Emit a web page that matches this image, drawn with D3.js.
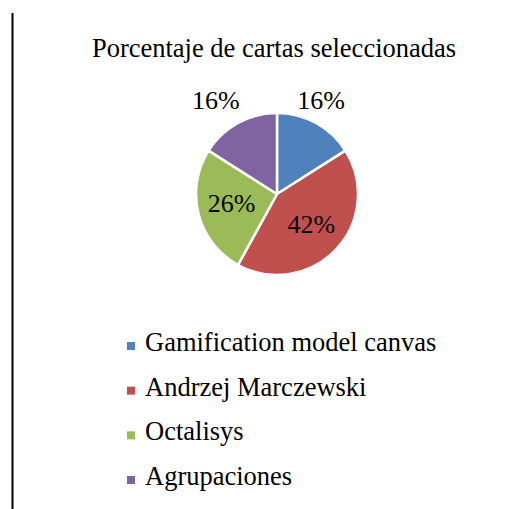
<!DOCTYPE html>
<html><head><meta charset="utf-8">
<script src="https://cdn.jsdelivr.net/npm/d3@7"></script>
<style>html,body{margin:0;padding:0;background:#fff;}svg{display:block;}</style>
</head><body>
<script>
const categories = ["Gamification model canvas", "Andrzej Marczewski", "Octalisys", "Agrupaciones"];
const values = [16, 42, 26, 16];
const colors = ["#4F81BD", "#C0504D", "#9BBB59", "#8064A2"];
const title = "Porcentaje de cartas seleccionadas";

const W = 528, H = 509;
const svg = d3.select("body").append("svg").attr("width", W).attr("height", H);
const font = "'Liberation Serif','Times New Roman',serif";

svg.append("line").attr("x1", 12.5).attr("x2", 12.5).attr("y1", 13).attr("y2", H)
  .attr("stroke", "#000").attr("stroke-width", 2);

svg.append("text").attr("x", 274).attr("y", 57).attr("text-anchor", "middle")
  .attr("font-family", font).attr("font-size", 26.5).attr("fill", "#000").text(title);

const cx = 277, cy = 194, R = 81;
const total = d3.sum(values);
const pie = d3.pie().sort(null).value(d => d);
const arcs = pie(values);
const arc = d3.arc().innerRadius(0).outerRadius(R);
const g = svg.append("g").attr("transform", `translate(${cx},${cy})`);
g.selectAll("path").data(arcs).join("path")
  .attr("d", arc).attr("fill", (d, i) => colors[i])
  .attr("stroke", "#fff").attr("stroke-width", 2.5).attr("stroke-linejoin", "round");

const fmt = v => Math.round(v / total * 100) + "%";
g.selectAll("text.lbl").data(arcs).join("text").attr("class", "lbl")
  .attr("font-family", font).attr("font-size", 26).attr("fill", "#000")
  .attr("dominant-baseline", "central")
  .attr("text-anchor", d => {
    const frac = (d.endAngle - d.startAngle) / (2 * Math.PI);
    if (frac > 0.2) return "middle";
    return Math.sin((d.startAngle + d.endAngle) / 2) > 0 ? "start" : "end";
  })
  .attr("transform", d => {
    const a = (d.startAngle + d.endAngle) / 2;
    const frac = (d.endAngle - d.startAngle) / (2 * Math.PI);
    let x, y;
    if (frac > 0.2) { x = Math.sin(a) * R * 0.58; y = -Math.cos(a) * R * 0.58 - 2; }
    else {
      x = Math.sin(a) > 0 ? R * 0.25 : -R * 0.46;
      y = -Math.cos(a) * R * 1.32;
    }
    return `translate(${x},${y})`;
  })
  .text(d => fmt(d.value));

const leg = svg.append("g");
const rowY = d3.scalePoint().domain(categories).range([351, 485]);
categories.forEach((c, i) => {
  const y = rowY(c);
  leg.append("rect").attr("x", 127).attr("y", y - 9).attr("width", 8).attr("height", 8).attr("fill", colors[i]);
  leg.append("text").attr("x", 145).attr("y", y)
    .attr("font-family", font).attr("font-size", 26.5).attr("fill", "#000").text(c);
});
</script>
</body></html>
